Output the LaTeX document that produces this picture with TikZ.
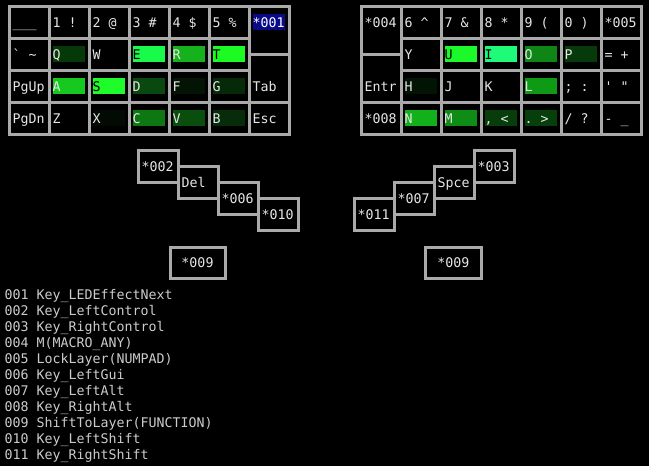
\documentclass[tikz,border=0pt]{standalone}
\usepackage{fontspec}
\setmonofont{DejaVu Sans Mono}
\definecolor{linegray}{HTML}{AAAAAA}
\definecolor{keyfg}{HTML}{E6E6E6}
\definecolor{legfg}{HTML}{CCCCCC}
\definecolor{navy1}{HTML}{0A0A88}
\definecolor{cQ}{HTML}{053A08}
\definecolor{cE}{HTML}{19FB4B}
\definecolor{cR}{HTML}{16B21E}
\definecolor{cT}{HTML}{1DFC22}
\definecolor{cA}{HTML}{17C91E}
\definecolor{cS}{HTML}{1EFC2A}
\definecolor{cD}{HTML}{09480E}
\definecolor{cF}{HTML}{031405}
\definecolor{cG}{HTML}{052A08}
\definecolor{cX}{HTML}{020A03}
\definecolor{cC}{HTML}{0D7712}
\definecolor{cV}{HTML}{0A4E0E}
\definecolor{cB}{HTML}{072C09}
\definecolor{cU}{HTML}{1CF92B}
\definecolor{cI}{HTML}{1DFB79}
\definecolor{cO}{HTML}{0E8514}
\definecolor{cP}{HTML}{063A0A}
\definecolor{cH}{HTML}{021404}
\definecolor{cL}{HTML}{0E9A14}
\definecolor{cN}{HTML}{12B01A}
\definecolor{cM}{HTML}{0F8C16}
\definecolor{cCo}{HTML}{063D0A}
\definecolor{cPe}{HTML}{073F0B}
\newcommand\kfont{\ttfamily\fontsize{13.29}{16}\selectfont}
\tikzset{
  gridline/.style={draw=linegray, line width=3pt},
  keytext/.style={anchor=base west, inner sep=0pt, font=\kfont},
  legtext/.style={anchor=base west, inner sep=0pt, font=\kfont, text=legfg},
}
% name, x, y, w, h, text centre y, bar colour, text colour, label
\newcommand\kcell[9]{%
  \draw[gridline] (#2,#3) rectangle ++(#4,#5);
  \path[fill=#7] ({#2+3.5},{#6-8}) rectangle ++(32,16);
  \node[keytext,text=#8] (#1) at ({#2+3.5},{#6+5}) {#9};
}
\begin{document}
\begin{tikzpicture}[x=1pt,y=-1pt]
\useasboundingbox (0,0) rectangle (649,466);
\fill[black] (0,0) rectangle (649,466);
% ---------- left half ----------
\kcell{l00}{9}{6}{40}{32}{22}{none}{keyfg}{\_\_\_}
\kcell{l01}{49}{6}{40}{32}{22}{none}{keyfg}{1 !}
\kcell{l02}{89}{6}{40}{32}{22}{none}{keyfg}{2 @}
\kcell{l03}{129}{6}{40}{32}{22}{none}{keyfg}{3 \#}
\kcell{l04}{169}{6}{40}{32}{22}{none}{keyfg}{4 \$}
\kcell{l05}{209}{6}{40}{32}{22}{none}{keyfg}{5 \%}
\kcell{l06}{249}{6}{40}{48}{22}{navy1}{white}{*001}
\kcell{l10}{9}{38}{40}{32}{54}{none}{keyfg}{\textasciigrave{} \textasciitilde}
\kcell{l11}{49}{38}{40}{32}{54}{cQ}{keyfg}{Q}
\kcell{l12}{89}{38}{40}{32}{54}{none}{keyfg}{W}
\kcell{l13}{129}{38}{40}{32}{54}{cE}{black}{E}
\kcell{l14}{169}{38}{40}{32}{54}{cR}{keyfg}{R}
\kcell{l15}{209}{38}{40}{32}{54}{cT}{black}{T}
\kcell{l16}{249}{54}{40}{48}{86}{none}{keyfg}{Tab}
\kcell{l20}{9}{70}{40}{32}{86}{none}{keyfg}{PgUp}
\kcell{l21}{49}{70}{40}{32}{86}{cA}{keyfg}{A}
\kcell{l22}{89}{70}{40}{32}{86}{cS}{black}{S}
\kcell{l23}{129}{70}{40}{32}{86}{cD}{keyfg}{D}
\kcell{l24}{169}{70}{40}{32}{86}{cF}{keyfg}{F}
\kcell{l25}{209}{70}{40}{32}{86}{cG}{keyfg}{G}
\kcell{l30}{9}{102}{40}{32}{118}{none}{keyfg}{PgDn}
\kcell{l31}{49}{102}{40}{32}{118}{none}{keyfg}{Z}
\kcell{l32}{89}{102}{40}{32}{118}{cX}{keyfg}{X}
\kcell{l33}{129}{102}{40}{32}{118}{cC}{keyfg}{C}
\kcell{l34}{169}{102}{40}{32}{118}{cV}{keyfg}{V}
\kcell{l35}{209}{102}{40}{32}{118}{cB}{keyfg}{B}
\kcell{l36}{249}{102}{40}{32}{118}{none}{keyfg}{Esc}
% ---------- right half ----------
\kcell{r00}{361}{6}{40}{48}{22}{none}{keyfg}{*004}
\kcell{r01}{401}{6}{40}{32}{22}{none}{keyfg}{6 \textasciicircum}
\kcell{r02}{441}{6}{40}{32}{22}{none}{keyfg}{7 \&}
\kcell{r03}{481}{6}{40}{32}{22}{none}{keyfg}{8 *}
\kcell{r04}{521}{6}{40}{32}{22}{none}{keyfg}{9 (}
\kcell{r05}{561}{6}{40}{32}{22}{none}{keyfg}{0 )}
\kcell{r06}{601}{6}{40}{32}{22}{none}{keyfg}{*005}
\kcell{r10}{361}{54}{40}{48}{86}{none}{keyfg}{Entr}
\kcell{r11}{401}{38}{40}{32}{54}{none}{keyfg}{Y}
\kcell{r12}{441}{38}{40}{32}{54}{cU}{black}{U}
\kcell{r13}{481}{38}{40}{32}{54}{cI}{black}{I}
\kcell{r14}{521}{38}{40}{32}{54}{cO}{keyfg}{O}
\kcell{r15}{561}{38}{40}{32}{54}{cP}{keyfg}{P}
\kcell{r16}{601}{38}{40}{32}{54}{none}{keyfg}{= +}
\kcell{r21}{401}{70}{40}{32}{86}{cH}{keyfg}{H}
\kcell{r22}{441}{70}{40}{32}{86}{none}{keyfg}{J}
\kcell{r23}{481}{70}{40}{32}{86}{none}{keyfg}{K}
\kcell{r24}{521}{70}{40}{32}{86}{cL}{keyfg}{L}
\kcell{r25}{561}{70}{40}{32}{86}{none}{keyfg}{; :}
\kcell{r26}{601}{70}{40}{32}{86}{none}{keyfg}{\textquotesingle{} \textquotedbl}
\kcell{r30}{361}{102}{40}{32}{118}{none}{keyfg}{*008}
\kcell{r31}{401}{102}{40}{32}{118}{cN}{keyfg}{N}
\kcell{r32}{441}{102}{40}{32}{118}{cM}{keyfg}{M}
\kcell{r33}{481}{102}{40}{32}{118}{cCo}{keyfg}{, <}
\kcell{r34}{521}{102}{40}{32}{118}{cPe}{keyfg}{. >}
\kcell{r35}{561}{102}{40}{32}{118}{none}{keyfg}{/ ?}
\kcell{r36}{601}{102}{40}{32}{118}{none}{keyfg}{- \_}
% ---------- thumb clusters ----------
\kcell{t1}{138}{150}{40}{32}{166}{none}{keyfg}{*002}
\kcell{t2}{178}{166}{40}{32}{182}{none}{keyfg}{Del}
\kcell{t3}{218}{182}{40}{32}{198}{none}{keyfg}{*006}
\kcell{t4}{258}{198}{40}{32}{214}{none}{keyfg}{*010}
\draw[gridline] (170,247) rectangle ++(55,31);
\node[keytext,anchor=base,text=keyfg] (t5) at (197.5,267.5) {*009};
\kcell{u1}{354}{198}{40}{32}{214}{none}{keyfg}{*011}
\kcell{u2}{394}{182}{40}{32}{198}{none}{keyfg}{*007}
\kcell{u3}{434}{166}{40}{32}{182}{none}{keyfg}{Spce}
\kcell{u4}{474}{150}{40}{32}{166}{none}{keyfg}{*003}
\draw[gridline] (425.5,247) rectangle ++(55.5,31);
\node[keytext,anchor=base,text=keyfg] (u5) at (453.25,267.5) {*009};
% ---------- legend ----------
\node[legtext] (g1) at (4.5,299.3) {001 Key\_LEDEffectNext};
\node[legtext] (g2) at (4.5,315.3) {002 Key\_LeftControl};
\node[legtext] (g3) at (4.5,331.3) {003 Key\_RightControl};
\node[legtext] (g4) at (4.5,347.3) {004 M(MACRO\_ANY)};
\node[legtext] (g5) at (4.5,363.3) {005 LockLayer(NUMPAD)};
\node[legtext] (g6) at (4.5,379.3) {006 Key\_LeftGui};
\node[legtext] (g7) at (4.5,395.3) {007 Key\_LeftAlt};
\node[legtext] (g8) at (4.5,411.3) {008 Key\_RightAlt};
\node[legtext] (g9) at (4.5,427.3) {009 ShiftToLayer(FUNCTION)};
\node[legtext] (g10) at (4.5,443.3) {010 Key\_LeftShift};
\node[legtext] (g11) at (4.5,459.3) {011 Key\_RightShift};
\end{tikzpicture}
\end{document}
